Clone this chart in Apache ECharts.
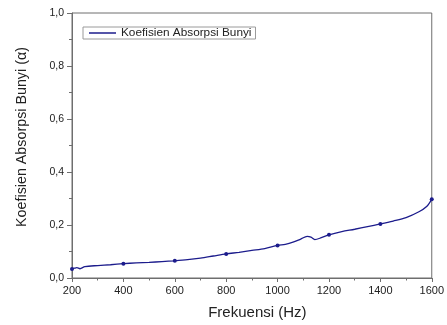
<!DOCTYPE html>
<html>
<head>
<meta charset="utf-8">
<script src="https://cdn.jsdelivr.net/npm/echarts@6/dist/echarts.min.js"></script>
<style>
  html, body { margin: 0; padding: 0; background: #fff; }
  #chart { width: 447px; height: 325px; }
</style>
</head>
<body>
<div id="chart"></div>
<script>
// values
const frequency = [200, 210, 219, 231, 250, 300, 350, 400, 450, 500, 550, 600, 650, 700, 750, 800,
  850, 900, 950, 1000, 1030, 1060, 1090, 1115, 1130, 1145, 1170, 1200, 1250, 1300, 1350, 1400,
  1450, 1500, 1550, 1580, 1600];
const alpha = [0.034, 0.037, 0.039, 0.035, 0.043, 0.047, 0.050, 0.054, 0.057, 0.059, 0.062, 0.065,
  0.069, 0.075, 0.083, 0.091, 0.097, 0.104, 0.111, 0.123, 0.127, 0.135, 0.147, 0.157, 0.154,
  0.145, 0.152, 0.163, 0.175, 0.184, 0.194, 0.204, 0.215, 0.228, 0.250, 0.270, 0.297];
const markerFreq = [200, 400, 600, 800, 1000, 1200, 1400, 1600];

const seriesName = "Koefisien Absorpsi Bunyi";
const font = "Liberation Sans, Arial, sans-serif";
const axisColor = "#6e6e6e";

const comma = v => v.toFixed(1).replace(".", ",");

const options = {
  animation: false,
  textStyle: { fontFamily: font },
  grid: {
    left: 72,
    right: 15,
    top: 13,
    bottom: 46,
    show: true,
    borderColor: axisColor,
    borderWidth: 1
  },
  legend: {
    left: 83,
    top: 27,
    data: [seriesName],
    icon: "rect",
    itemWidth: 27,
    itemHeight: 1.5,
    padding: [0, 4, 0, 6],
    borderColor: "#9a9a9a",
    borderWidth: 1,
    textStyle: { fontSize: 11.8, color: "#222", fontFamily: font }
  },
  xAxis: {
    type: "value",
    min: 200,
    max: 1600,
    interval: 200,
    name: "Frekuensi (Hz)",
    nameLocation: "middle",
    nameGap: 27,
    nameTextStyle: { fontSize: 15, color: "#222", padding: [0, 0, 0, 11] },
    axisLine: { lineStyle: { color: axisColor } },
    axisTick: { length: 4, lineStyle: { color: axisColor } },
    minorTick: { show: true, splitNumber: 2, length: 2.5, lineStyle: { color: axisColor } },
    axisLabel: { fontSize: 11, color: "#222", margin: 7, formatter: v => String(v) },
    splitLine: { show: false }
  },
  yAxis: {
    type: "value",
    min: 0,
    max: 1,
    interval: 0.2,
    name: "Koefisien Absorpsi Bunyi (\u03b1)",
    nameLocation: "middle",
    nameGap: 43,
    nameTextStyle: { fontSize: 14.3, color: "#222", padding: [0, 0, 0, 17] },
    axisLine: { show: true, lineStyle: { color: axisColor } },
    axisTick: { show: true, length: 5, lineStyle: { color: axisColor } },
    minorTick: { show: true, splitNumber: 2, length: 3, lineStyle: { color: axisColor } },
    axisLabel: { fontSize: 10.5, color: "#222", margin: 8, formatter: comma },
    splitLine: { show: false }
  },
  series: [
    {
      name: seriesName,
      type: "line",
      data: frequency.map((f, i) => [f, alpha[i]]),
      smooth: 0.3,
      symbol: v => (markerFreq.includes(v[0]) ? "circle" : "none"),
      symbolSize: 4,
      itemStyle: { color: "#1c1c8c" },
      lineStyle: { color: "#1c1c8c", width: 1.3 }
    }
  ]
};

const myChart = echarts.init(document.getElementById("chart"));
myChart.setOption(options);
</script>
</body>
</html>
